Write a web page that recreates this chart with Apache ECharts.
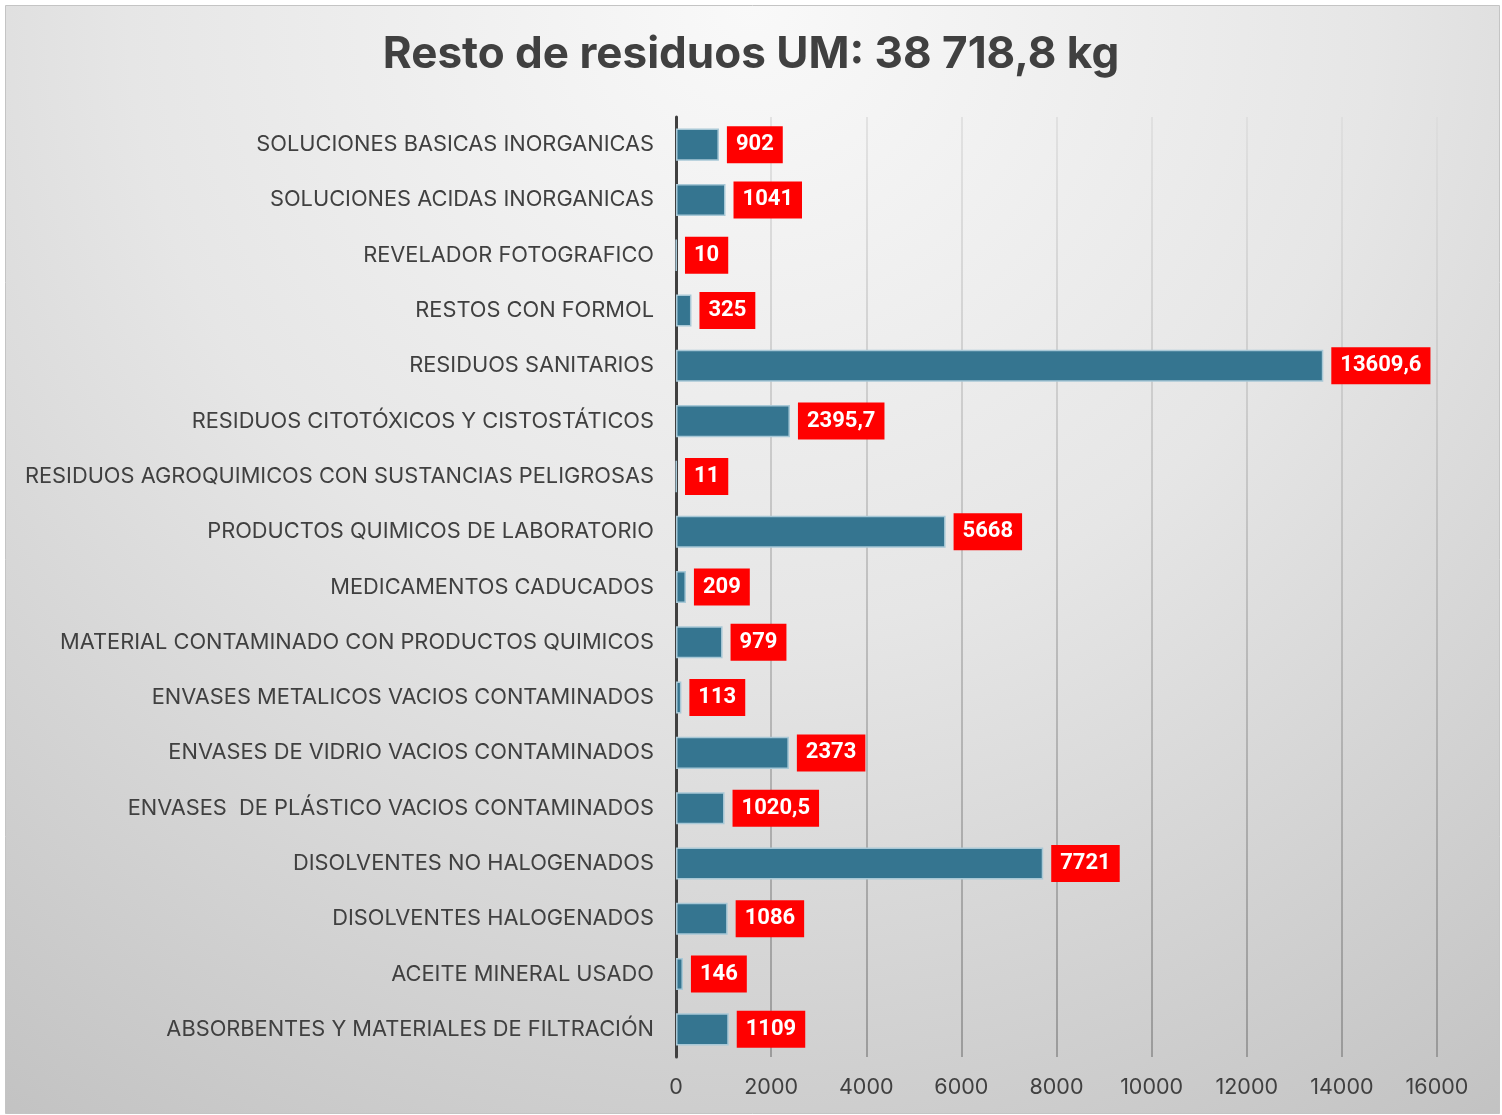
<!DOCTYPE html>
<html>
<head>
<meta charset="utf-8">
<script src="https://cdn.jsdelivr.net/npm/echarts@6/dist/echarts.min.js"></script>
<style>
  html, body { margin: 0; padding: 0; background: #fff; }
  #chart { width: 1502px; height: 1115px; }
</style>
</head>
<body>
<div id="chart"></div>
<script>
// categories top to bottom
var categorias = [
    'SOLUCIONES BASICAS INORGANICAS',
    'SOLUCIONES ACIDAS INORGANICAS',
    'REVELADOR FOTOGRAFICO',
    'RESTOS CON FORMOL',
    'RESIDUOS SANITARIOS',
    'RESIDUOS CITOTÓXICOS Y CISTOSTÁTICOS',
    'RESIDUOS AGROQUIMICOS CON SUSTANCIAS PELIGROSAS',
    'PRODUCTOS QUIMICOS DE LABORATORIO',
    'MEDICAMENTOS CADUCADOS',
    'MATERIAL CONTAMINADO CON PRODUCTOS QUIMICOS',
    'ENVASES METALICOS VACIOS CONTAMINADOS',
    'ENVASES DE VIDRIO VACIOS CONTAMINADOS',
    'ENVASES  DE PLÁSTICO VACIOS CONTAMINADOS',
    'DISOLVENTES NO HALOGENADOS',
    'DISOLVENTES HALOGENADOS',
    'ACEITE MINERAL USADO',
    'ABSORBENTES Y MATERIALES DE FILTRACIÓN'
];
var kilos = [902, 1041, 10, 325, 13609.6, 2395.7, 11, 5668, 209, 979, 113, 2373, 1020.5, 7721, 1086, 146, 1109];
var ejeMax = 16000;
var ejePaso = 2000;
var titulo = 'Resto de residuos UM: 38 718,8 kg';

var myChart = echarts.init(document.getElementById('chart'));
var option = {
    backgroundColor: '#ffffff',
    graphic: [{
        type: 'rect',
        z: -10,
        shape: {x: 5.5, y: 5.5, width: 1494, height: 1108},
        style: {
            stroke: '#c4c4c4',
            lineWidth: 1,
            fill: new echarts.graphic.RadialGradient(0.5, 0, 1.25, [
                {offset: 0, color: '#f9f9f9'},
                {offset: 0.45, color: '#e6e6e6'},
                {offset: 1, color: '#c0c0c0'}
            ])
        },
        silent: true
    }],
    title: {
        text: titulo,
        left: 'center',
        top: 28,
        textStyle: {
            fontFamily: 'Inter',
            fontSize: 44,
            fontWeight: 'bold',
            color: '#404040'
        }
    },
    grid: {
        left: 676,
        right: 65,
        top: 117,
        bottom: 58
    },
    xAxis: {
        type: 'value',
        min: 0,
        max: ejeMax,
        interval: ejePaso,
        axisLine: {show: false},
        axisTick: {show: false},
        axisLabel: {
            margin: 20,
            fontFamily: 'Inter',
            fontSize: 21.5,
            color: '#404040',
            formatter: function (v) { return String(v); }
        },
        splitLine: {
            lineStyle: {
                width: 1.5,
                color: new echarts.graphic.LinearGradient(0, 117, 0, 1057, [
                    {offset: 0, color: '#dcdcdc'},
                    {offset: 1, color: '#8a8a8a'}
                ], true)
            }
        }
    },
    yAxis: {
        type: 'category',
        inverse: true,
        data: categorias,
        axisLine: {lineStyle: {color: '#404040', width: 3}},
        axisTick: {show: false},
        axisLabel: {
            margin: 22,
            fontFamily: 'Inter',
            fontSize: 21.8,
            color: '#404040'
        }
    },
    series: [{
        type: 'bar',
        data: kilos,
        barCategoryGap: '42%',
        itemStyle: {
            color: '#357590',
            borderColor: '#a8c8d6',
            borderWidth: 1.5
        },
        label: {
            show: true,
            position: 'right',
            distance: 8,
            backgroundColor: '#ff0000',
            padding: [9, 9, 6, 9],
            color: '#ffffff',
            fontFamily: 'Roboto',
            fontWeight: 'bold',
            fontSize: 22,
            formatter: function (p) {
                return String(p.value).replace('.', ',');
            }
        }
    }]
};
myChart.setOption(option);
</script>
</body>
</html>
